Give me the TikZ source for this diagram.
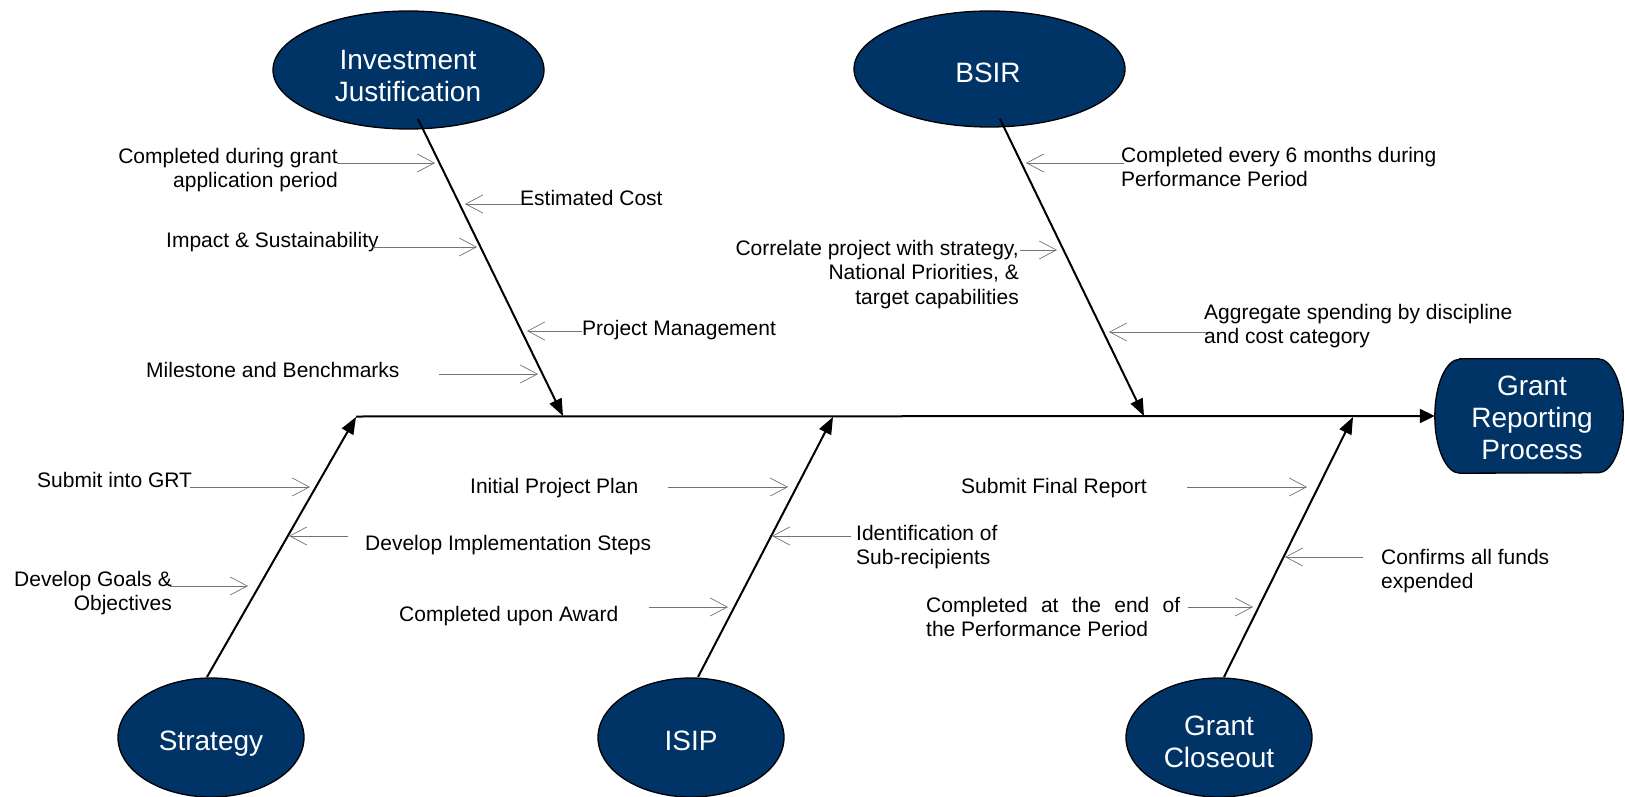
\documentclass[tikz,border=0pt]{standalone}
\usepackage{fontspec}
\setmainfont{Liberation Sans}
\usetikzlibrary{arrows.meta,shapes.geometric}
\definecolor{navy}{RGB}{0,51,102}
\begin{document}
\begin{tikzpicture}[x=1pt,y=-1pt,
 ell/.style={ellipse, draw=black, line width=1.3pt, fill=navy, inner sep=0pt},
 big/.style={text=white, font=\fontsize{28}{32}\selectfont, align=center, inner sep=0pt},
 lab/.style={font=\fontsize{21}{24.5}\selectfont, inner sep=0pt},
 bone/.style={line width=2pt, -{Triangle[length=17pt,width=13pt]}},
 sm/.style={draw=black!55, line width=0.9pt, -{Straight Barb[length=17pt,width=18pt,line width=0.7pt]}}]
\useasboundingbox (0,0) rectangle (1625,797);

% result box
\node[minimum width=188pt, minimum height=114pt, inner sep=0pt] (grp) at (1529,416) {};
\draw[line width=1.3pt, fill=navy] ([xshift=25pt]grp.north west) -- ([xshift=-25pt]grp.north east)
  arc[start angle=90,end angle=-90,x radius=25pt,y radius=57pt]
  -- ([xshift=25pt]grp.south west)
  arc[start angle=270,end angle=90,x radius=25pt,y radius=57pt] -- cycle;
\node[big, anchor=north] (grptxt) at (1532,372.6) {\strut Grant\\Reporting\\Process};

% spine
\coordinate (spL) at (356,416.5);
\draw[line width=2pt, -{Triangle[length=15pt,width=14pt]}] (spL) -- (grp.west);

% category ellipses
\node[ell, minimum width=271pt, minimum height=118pt] (ij) at (408.5,70) {};
\node[big, anchor=north] (ijtxt) at (408,46.6) {\strut Investment\\Justification};
\node[ell, minimum width=271pt, minimum height=116pt] (bsir) at (989.5,69) {};
\node[big, anchor=north] (bsirtxt) at (988,59.6) {\strut BSIR};
\node[ell, minimum width=186pt, minimum height=119pt] (str) at (211,737.5) {};
\node[big, anchor=north] (strtxt) at (211,727.6) {\strut Strategy};
\node[ell, minimum width=186pt, minimum height=119pt] (isip) at (691,737.5) {};
\node[big, anchor=north] (isiptxt) at (691,727.6) {\strut ISIP};
\node[ell, minimum width=186pt, minimum height=119pt] (gc) at (1219,737.5) {};
\node[big, anchor=north] (gctxt) at (1219,712.6) {\strut Grant\\Closeout};

% bones
\coordinate (ijB) at (418,119);   \coordinate (ijT) at (563,416);
\coordinate (bsB) at (1000,119);  \coordinate (bsT) at (1144,416);
\coordinate (stB) at (207,677);   \coordinate (stT) at (356,417);
\coordinate (isB) at (698,677);   \coordinate (isT) at (833,417);
\coordinate (gcB) at (1224,677);  \coordinate (gcT) at (1353,417);
\draw[bone] (ijB) -- (ijT);
\draw[bone] (bsB) -- (bsT);
\draw[bone] (stB) -- (stT);
\draw[bone] (isB) -- (isT);
\draw[bone] (gcB) -- (gcT);

% labels
\node[lab, anchor=north east, align=right] (l1) at (338,145.9) {\strut Completed during grant\\application period};
\node[lab, anchor=north west] (l2) at (520,187.9) {\strut Estimated Cost};
\node[lab, anchor=north west] (l3) at (166,229.9) {\strut Impact \& Sustainability};
\node[lab, anchor=north west] (l4) at (582,317.9) {\strut Project Management};
\node[lab, anchor=north west] (l5) at (146,359.9) {\strut Milestone and Benchmarks};
\node[lab, anchor=north west, align=left] (l6) at (1121,144.9) {\strut Completed every 6 months during\\Performance Period};
\node[lab, anchor=north east, align=right] (l7) at (1019,237.9) {\strut Correlate project with strategy,\\National Priorities, \&\\target capabilities};
\node[lab, anchor=north west, align=left] (l8) at (1204,301.9) {\strut Aggregate spending by discipline\\and cost category};
\node[lab, anchor=north west] (l9) at (37,469.9) {\strut Submit into GRT};
\node[lab, anchor=north west] (l10) at (365,532.9) {\strut Develop Implementation Steps};
\node[lab, anchor=north east, align=right] (l11) at (172,568.9) {\strut Develop Goals \&\\Objectives};
\node[lab, anchor=north west] (l12) at (470,475.9) {\strut Initial Project Plan};
\node[lab, anchor=north west] (l13) at (399,603.9) {\strut Completed upon Award};
\node[lab, anchor=north west, align=left] (l14) at (856,522.9) {\strut Identification of\\Sub-recipients};
\node[lab, anchor=north west] (l15) at (961,475.9) {\strut Submit Final Report};
\node[lab, anchor=north west, align=left] (l16) at (926,594.9) {\strut\makebox[254pt][s]{Completed at the end of}\\the Performance Period};
\node[lab, anchor=north west, align=left] (l17) at (1381,546.9) {\strut Confirms all funds\\expended};

% small arrows
\foreach \n/\xa/\ya/\xb in {1/337/163/435, 2/522/204/465, 3/373/247/477, 4/582/331/527,
  5/439/374/538, 6/1124/163/1026, 7/1020/250/1057, 8/1207/332/1109,
  9/190/487/310, 10/348/536/289, 11/170/586/248, 12/668/487/788,
  13/649/607/728, 14/851/536/772, 15/1187/487/1307, 16/1188/607/1253, 17/1363/557/1285}{
  \coordinate (a\n s) at (\xa,\ya);
  \coordinate (a\n e) at (\xb,\ya);
  \draw[sm] (a\n s) -- (a\n e);
}
\end{tikzpicture}
\end{document}
